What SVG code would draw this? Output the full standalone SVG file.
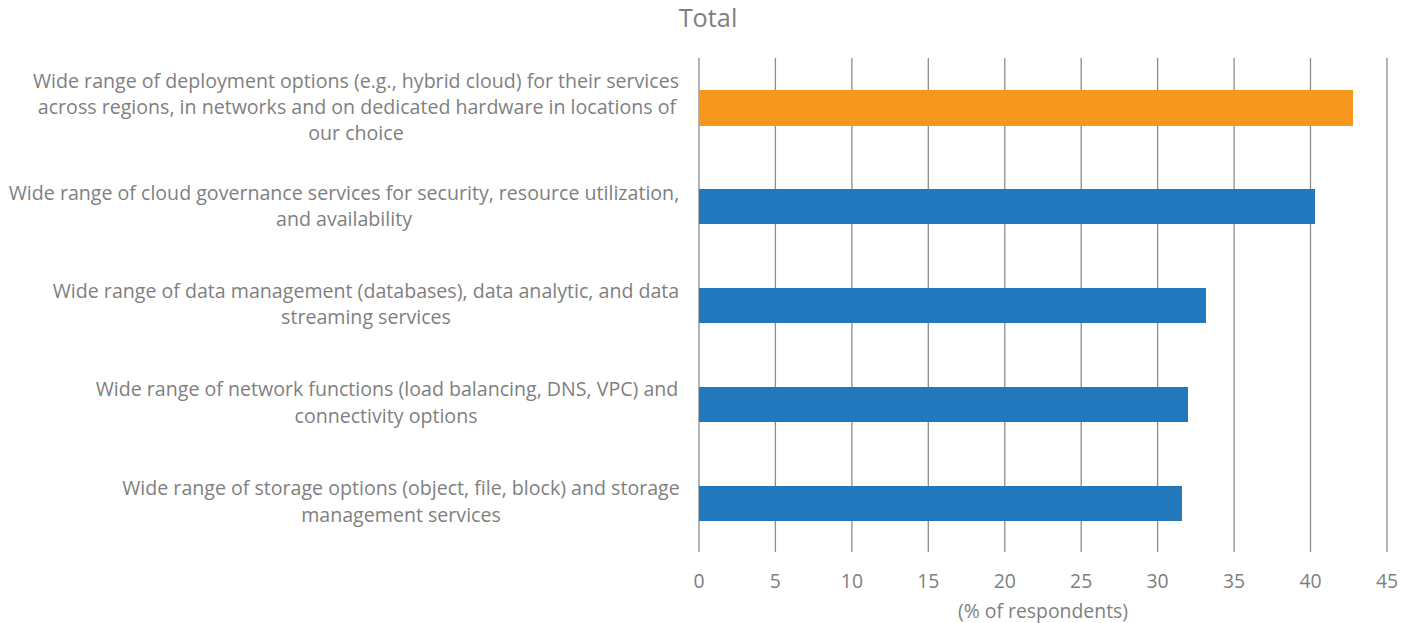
<svg xmlns="http://www.w3.org/2000/svg" width="1411" height="623" viewBox="0 0 1411 623">
  <style>
    text { font-family: "Open Sans", "Liberation Sans", sans-serif; fill: #7f7f7f; }
    .lbl { font-size: 19.6px; text-anchor: middle; }
    .tick { font-size: 19.4px; text-anchor: middle; }
    .title { font-size: 25.3px; text-anchor: middle; }
    .grid { stroke: #8c8c8c; stroke-width: 1.3; }
    .orange { fill: #f7981d; }
    .blue { fill: #2278bc; }
  </style>
  <rect width="1411" height="623" fill="#ffffff"/>

  <text class="title" x="708" y="27">Total</text>

  <!-- vertical gridlines, 5-unit steps from 0 to 45 -->
  <g id="gridlines">
    <line class="grid" x1="699" y1="58" x2="699" y2="552"/>
    <line class="grid" x1="775.4" y1="58" x2="775.4" y2="552"/>
    <line class="grid" x1="851.9" y1="58" x2="851.9" y2="552"/>
    <line class="grid" x1="928.3" y1="58" x2="928.3" y2="552"/>
    <line class="grid" x1="1004.8" y1="58" x2="1004.8" y2="552"/>
    <line class="grid" x1="1081.2" y1="58" x2="1081.2" y2="552"/>
    <line class="grid" x1="1157.6" y1="58" x2="1157.6" y2="552"/>
    <line class="grid" x1="1234.1" y1="58" x2="1234.1" y2="552"/>
    <line class="grid" x1="1310.5" y1="58" x2="1310.5" y2="552"/>
    <line class="grid" x1="1387" y1="58" x2="1387" y2="552"/>
  </g>

  <g id="bars">
    <rect id="bar-deployment" class="orange" x="699" y="90" width="654" height="36"/>
    <rect id="bar-governance" class="blue" x="699" y="189" width="616" height="35"/>
    <rect id="bar-data" class="blue" x="699" y="288" width="507" height="35"/>
    <rect id="bar-network" class="blue" x="699" y="387" width="489" height="35"/>
    <rect id="bar-storage" class="blue" x="699" y="486" width="483" height="35"/>
  </g>

  <g id="category-labels">
    <text class="lbl" x="356" y="88">Wide range of deployment options (e.g., hybrid cloud) for their services</text>
    <text class="lbl" x="357" y="114">across regions, in networks and on dedicated hardware in locations of</text>
    <text class="lbl" x="356" y="140">our choice</text>

    <text class="lbl" x="344" y="200">Wide range of cloud governance services for security, resource utilization,</text>
    <text class="lbl" x="344" y="226">and availability</text>

    <text class="lbl" x="366" y="298">Wide range of data management (databases), data analytic, and data</text>
    <text class="lbl" x="366" y="324">streaming services</text>

    <text class="lbl" x="387" y="396">Wide range of network functions (load balancing, DNS, VPC) and</text>
    <text class="lbl" x="386" y="423">connectivity options</text>

    <text class="lbl" x="401" y="495">Wide range of storage options (object, file, block) and storage</text>
    <text class="lbl" x="401" y="522">management services</text>
  </g>

  <g id="axis-labels">
    <text class="tick" x="699" y="588">0</text>
    <text class="tick" x="775.4" y="588">5</text>
    <text class="tick" x="851.9" y="588">10</text>
    <text class="tick" x="928.3" y="588">15</text>
    <text class="tick" x="1004.8" y="588">20</text>
    <text class="tick" x="1081.2" y="588">25</text>
    <text class="tick" x="1157.6" y="588">30</text>
    <text class="tick" x="1234.1" y="588">35</text>
    <text class="tick" x="1310.5" y="588">40</text>
    <text class="tick" x="1387" y="588">45</text>
    <text class="tick" x="1043" y="618">(% of respondents)</text>
  </g>
</svg>
